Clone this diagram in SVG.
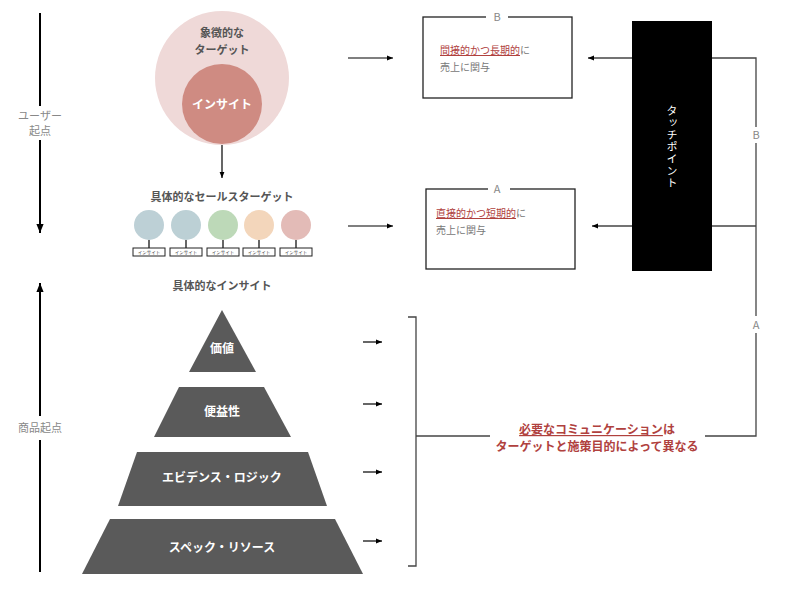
<svg xmlns="http://www.w3.org/2000/svg" width="800" height="604" viewBox="0 0 800 604">
<defs>
<style>
text{font-family:"Noto Sans CJK JP","Noto Sans",sans-serif;}
.ln{stroke:#000;stroke-width:1.2;fill:none;}
.gl{stroke:#444;stroke-width:1.3;fill:none;}
.thick{stroke:#000;stroke-width:2;fill:none;}
.lbl{fill:#555;font-size:11px;font-weight:bold;text-anchor:middle;}
.wt{fill:#fff;font-size:12px;font-weight:bold;text-anchor:middle;}
.gray{fill:#888;font-size:11px;text-anchor:middle;}
.box{fill:#fff;stroke:#222;stroke-width:1.3;}
.bt{font-size:10px;fill:#777;}
.red{fill:#b0413e;}
.pyr{fill:#5a5a5a;}
.tag{fill:#fff;stroke:#222;stroke-width:1;}
.tagt{font-size:4.5px;fill:#333;text-anchor:middle;}
</style>
<marker id="ah" viewBox="0 0 10 10" refX="10" refY="5" markerWidth="6" markerHeight="6" markerUnits="userSpaceOnUse" orient="auto"><path d="M0,1 L10,5 L0,9 z" fill="#000"/></marker>
<marker id="ahb" viewBox="0 0 10 10" refX="10" refY="5" markerWidth="9" markerHeight="9" markerUnits="userSpaceOnUse" orient="auto"><path d="M0,1 L10,5 L0,9 z" fill="#000"/></marker>
</defs>
<rect width="800" height="604" fill="#fff"/>

<g id="connectors">
  <line class="thick" x1="40" y1="13" x2="40" y2="106"/>
  <line class="thick" x1="40" y1="140" x2="40" y2="233" marker-end="url(#ahb)"/>
  <line class="thick" x1="40" y1="572" x2="40" y2="440"/>
  <line class="thick" x1="40" y1="416" x2="40" y2="283" marker-end="url(#ahb)"/>
  <line class="ln" x1="222" y1="144" x2="222" y2="178" marker-end="url(#ah)"/>
  <line class="ln" x1="348" y1="58" x2="393" y2="58" marker-end="url(#ah)"/>
  <line class="ln" x1="348" y1="226" x2="393" y2="226" marker-end="url(#ah)"/>
  <line class="gl" x1="632" y1="58" x2="588" y2="58" marker-end="url(#ah)"/>
  <line class="gl" x1="632" y1="226" x2="592" y2="226" marker-end="url(#ah)"/>
  <polyline class="gl" points="712,58 756,58 756,127"/>
  <line class="gl" x1="756" y1="143" x2="756" y2="316"/>
  <line class="gl" x1="712" y1="226" x2="756" y2="226"/>
  <polyline class="gl" points="756,333 756,436 705,436"/>
  <text x="756" y="139" class="gray" font-size="11">B</text>
  <text x="756" y="329" class="gray" font-size="11">A</text>
  <line class="gl" x1="490" y1="436" x2="416" y2="436"/>
  <polyline class="gl" points="408,317 416,317 416,566 408,566"/>
  <line class="ln" x1="363" y1="342" x2="382" y2="342" marker-end="url(#ah)"/>
  <line class="ln" x1="363" y1="404" x2="382" y2="404" marker-end="url(#ah)"/>
  <line class="ln" x1="363" y1="472" x2="382" y2="472" marker-end="url(#ah)"/>
  <line class="ln" x1="363" y1="541" x2="382" y2="541" marker-end="url(#ah)"/>
  <line class="ln" x1="149" y1="240" x2="149" y2="248"/>
  <line class="ln" x1="186" y1="240" x2="186" y2="248"/>
  <line class="ln" x1="223" y1="240" x2="223" y2="248"/>
  <line class="ln" x1="259" y1="240" x2="259" y2="248"/>
  <line class="ln" x1="296" y1="240" x2="296" y2="248"/>
</g>

<g id="axis-labels">
  <text x="40" y="120" class="gray" font-size="10.5">ユーザー</text>
  <text x="40" y="135" class="gray" font-size="10.5">起点</text>
  <text x="40" y="432" class="gray">商品起点</text>
</g>

<g id="symbolic-target">
  <circle cx="222" cy="78" r="67" fill="#efd9d8"/>
  <text x="222" y="37" class="lbl">象徴的な</text>
  <text x="222" y="54" class="lbl">ターゲット</text>
</g>
<g id="insight">
  <circle cx="222" cy="104" r="40" fill="#cf8b82"/>
  <text x="222" y="109" class="wt">インサイト</text>
</g>

<g id="sales-targets">
  <text x="222" y="201" class="lbl" font-size="12">具体的なセールスターゲット</text>
  <circle cx="149" cy="225" r="15" fill="#bdd0d6"/>
  <circle cx="186" cy="225" r="15" fill="#bcd0d5"/>
  <circle cx="223" cy="225" r="15" fill="#bdd9b8"/>
  <circle cx="259" cy="225" r="15" fill="#f3d6bb"/>
  <circle cx="296" cy="225" r="15" fill="#e3bbb7"/>
  <rect class="tag" x="133" y="248" width="32" height="8"/>
  <rect class="tag" x="170" y="248" width="32" height="8"/>
  <rect class="tag" x="207" y="248" width="32" height="8"/>
  <rect class="tag" x="243" y="248" width="32" height="8"/>
  <rect class="tag" x="280" y="248" width="32" height="8"/>
  <text class="tagt" x="149" y="254">インサイト</text>
  <text class="tagt" x="186" y="254">インサイト</text>
  <text class="tagt" x="223" y="254">インサイト</text>
  <text class="tagt" x="259" y="254">インサイト</text>
  <text class="tagt" x="296" y="254">インサイト</text>
</g>

<g id="concrete-insight">
  <text x="222" y="290" class="lbl" font-size="12">具体的なインサイト</text>
</g>

<g id="pyramid-value">
  <polygon class="pyr" points="222,310 256,372 189,372"/>
  <text x="222" y="353" class="wt">価値</text>
</g>
<g id="pyramid-benefit">
  <polygon class="pyr" points="179,387 264,387 291,437 154,437"/>
  <text x="222" y="416" class="wt">便益性</text>
</g>
<g id="pyramid-evidence">
  <polygon class="pyr" points="137,452 308,452 327,506 118,506"/>
  <text x="222" y="482" class="wt">エビデンス・ロジック</text>
</g>
<g id="pyramid-spec">
  <polygon class="pyr" points="110,519 335,519 363,574 82,574"/>
  <text x="222" y="552" class="wt">スペック・リソース</text>
</g>

<g id="box-b">
  <rect class="box" x="423" y="17" width="149" height="81"/>
  <rect x="486" y="13" width="22" height="8" fill="#fff"/>
  <text x="497" y="21" class="gray" font-size="11">B</text>
  <text x="440" y="54" class="bt"><tspan class="red" text-decoration="underline">間接的かつ長期的</tspan>に</text>
  <text x="440" y="71" class="bt">売上に関与</text>
</g>

<g id="box-a">
  <rect class="box" x="426" y="189" width="149" height="80"/>
  <rect x="488" y="185" width="22" height="8" fill="#fff"/>
  <text x="497" y="193" class="gray" font-size="11">A</text>
  <text x="436" y="217" class="bt"><tspan class="red" text-decoration="underline">直接的かつ短期的</tspan>に</text>
  <text x="436" y="234" class="bt">売上に関与</text>
</g>

<g id="touchpoint">
  <rect x="632" y="21" width="80" height="250" fill="#000"/>
  <text x="672" y="147" fill="#fff" font-size="11" text-anchor="middle" style="writing-mode:vertical-rl" letter-spacing="1">タッチポイント</text>
</g>

<g id="message">
  <text x="597" y="434" font-size="12" font-weight="bold" text-anchor="middle" class="red"><tspan text-decoration="underline">必要なコミュニケーション</tspan>は</text>
  <text x="597" y="451" font-size="12" font-weight="bold" text-anchor="middle" class="red">ターゲットと施策目的によって異なる</text>
</g>
</svg>
